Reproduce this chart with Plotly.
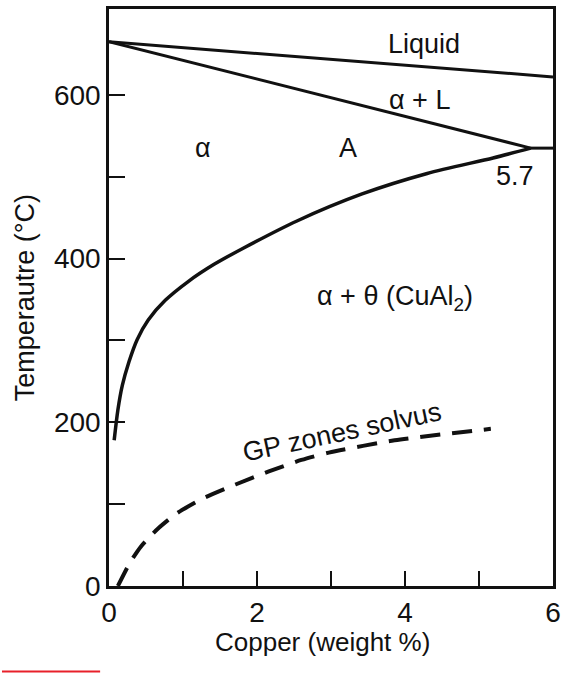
import plotly.graph_objects as go

# Al-Cu phase diagram, aluminium-rich end
liquidus_x = [0.0, 6.0]
liquidus_y = [665, 622]

solidus_x = [0.0, 5.7]
solidus_y = [665, 535]

eutectic_x = [5.7, 6.0]
eutectic_y = [535, 535]

solvus_x = [0.07, 0.12, 0.18, 0.27, 0.38, 0.53, 0.76, 1.07, 1.42, 1.82,
            2.54, 3.42, 4.30, 5.19, 5.7]
solvus_y = [178, 215, 245, 274, 301, 325, 349, 372, 393, 413,
            446, 479, 504, 523, 535]

gp_x = [0.12, 0.28, 0.43, 0.66, 0.92, 1.27, 1.71, 2.16, 2.60, 2.97, 3.86, 5.16]
gp_y = [0, 28, 48, 70, 89, 107, 124, 140, 154, 163, 178, 192]

x_ticks = [0, 2, 4, 6]
x_minor_ticks = [1, 3, 5]
y_ticks = [0, 200, 400, 600]
y_minor_ticks = [100, 300, 500]

FONT = "Liberation Sans, Arial, sans-serif"
INK = "#111111"

fig = go.Figure()

solid = dict(color=INK, width=3)
for xs, ys in [(liquidus_x, liquidus_y), (solidus_x, solidus_y),
               (eutectic_x, eutectic_y)]:
    fig.add_trace(go.Scatter(x=xs, y=ys, mode="lines", line=solid,
                             hoverinfo="skip", showlegend=False))

fig.add_trace(go.Scatter(x=solvus_x, y=solvus_y, mode="lines",
                         line=dict(color=INK, width=3.5, shape="spline", smoothing=0.8),
                         showlegend=False))

fig.add_trace(go.Scatter(x=gp_x, y=gp_y, mode="lines",
                         line=dict(color=INK, width=4, dash="20px,12px",
                                   shape="spline", smoothing=0.6),
                         showlegend=False))

labels = [
    ("Liquid", 4.26, 662, 0),
    ("α + L", 4.19, 594, 0),
    ("α", 1.27, 535, 0),
    ("A", 3.23, 535, 0),
    ("5.7", 5.48, 501, 0),
    ("α + θ (CuAl<sub>2</sub>)", 3.86, 352, 0),
    ("GP zones solvus", 3.15, 188, -12),
]
for text, x, y, ang in labels:
    fig.add_annotation(x=x, y=y, xref="x", yref="y", text=text, showarrow=False,
                       textangle=ang, font=dict(family=FONT, size=27, color=INK))

# axis titles
fig.add_annotation(x=-0.228, y=0.5, xref="paper", yref="paper",
                   text="Temperautre (°C)", showarrow=False, textangle=-90,
                   font=dict(family=FONT, size=27, color=INK))
fig.add_annotation(x=0.48, y=-0.127, xref="paper", yref="paper",
                   text="Copper (weight %)", showarrow=False,
                   font=dict(family=FONT, size=26, color=INK))

# red underline at the lower left edge
fig.add_shape(type="line", xref="paper", yref="paper",
              x0=-0.241, x1=-0.02, y0=-0.148, y1=-0.148,
              line=dict(color="#e8202a", width=2))

axis_common = dict(
    showgrid=False, zeroline=False, showline=True, linecolor=INK, linewidth=2.5,
    mirror=True, ticks="inside", tickcolor=INK, tickwidth=1.5,
    tickfont=dict(family=FONT, size=28, color=INK),
)

fig.update_xaxes(range=[0, 6], tickmode="array", tickvals=x_ticks, ticklen=15,
                 minor=dict(tickmode="array", tickvals=x_minor_ticks, ticks="inside",
                            ticklen=15, tickwidth=1.5, tickcolor=INK, showgrid=False),
                 **axis_common)
fig.update_yaxes(range=[0, 705], tickmode="array", tickvals=y_ticks, ticklen=16,
                 minor=dict(tickmode="array", tickvals=y_minor_ticks, ticks="inside",
                            ticklen=16, tickwidth=1.5, tickcolor=INK, showgrid=False),
                 **axis_common)

fig.update_layout(
    width=566, height=673,
    margin=dict(l=109, r=5, t=9, b=87),
    paper_bgcolor="white", plot_bgcolor="white",
    showlegend=False,
)

fig.write_html("out.html")
